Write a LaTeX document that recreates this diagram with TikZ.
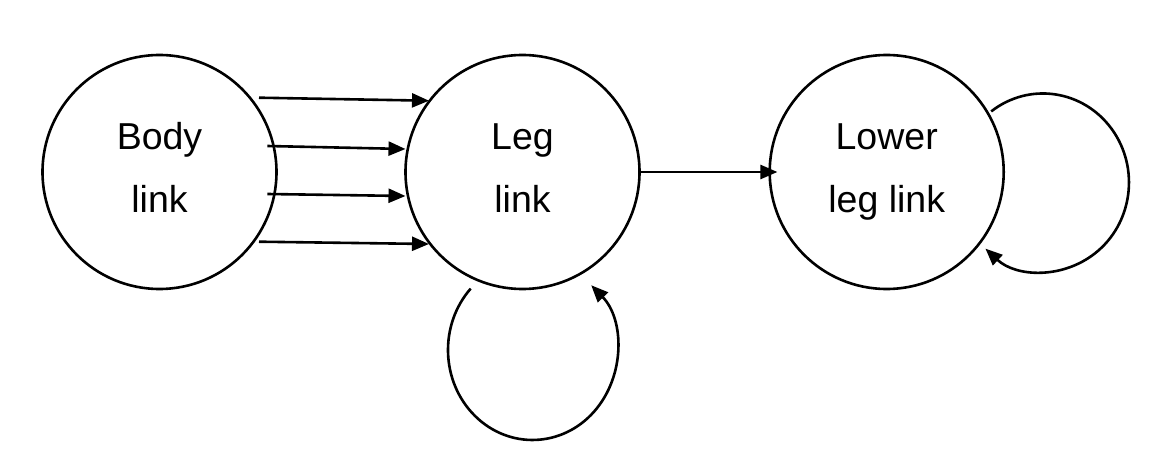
\documentclass[tikz,border=0pt]{standalone}
\usepackage{fontspec}
\setmainfont{Liberation Sans}
\usetikzlibrary{arrows.meta,calc}
\begin{document}
\begin{tikzpicture}[x=1pt,y=1pt,
  linkcirc/.style={circle,draw,line width=2.6pt,minimum size=234pt,inner sep=0pt,
    align=center,font=\fontsize{37.5}{63}\selectfont,text height=81pt,text depth=0pt},
  arr/.style={line width=2.6pt,-{Triangle[length=17pt,width=14pt]}}]
\useasboundingbox (0,0) rectangle (1170,-470);
\fill[white] (0,0) rectangle (1170,-470);
\node[linkcirc] (body) at (159.5,-172) {Body\\link};
\node[linkcirc] (leg) at (522.5,-172) {Leg\\link};
\node[linkcirc] (lower) at (886.7,-172) {Lower\\leg link};
% body -> leg
\draw[arr] ($(body.center)+(99.5,74.3)$) -- ($(leg.center)+(-93.5,71.3)$);
\draw[arr] ($(body.center)+(107.8,26)$) -- ($(leg.center)+(-117,23)$);
\draw[arr] ($(body.center)+(107.8,-22)$) -- ($(leg.center)+(-117,-24)$);
\draw[arr] ($(body.center)+(99.5,-69.7)$) -- ($(leg.center)+(-93.5,-72)$);
% leg -> lower
\draw[arr] (leg.east) -- ($(lower.west)+(9,0)$);
% self loops
\draw[arr] ($(leg.center)+(-51.8,-116.6)$) arc[start angle=137,end angle=406,x radius=84.5,y radius=90];
\draw[arr] ($(lower.center)+(104.5,60.6)$) arc[start angle=127,end angle=-132,x radius=86,y radius=89];
\end{tikzpicture}
\end{document}
